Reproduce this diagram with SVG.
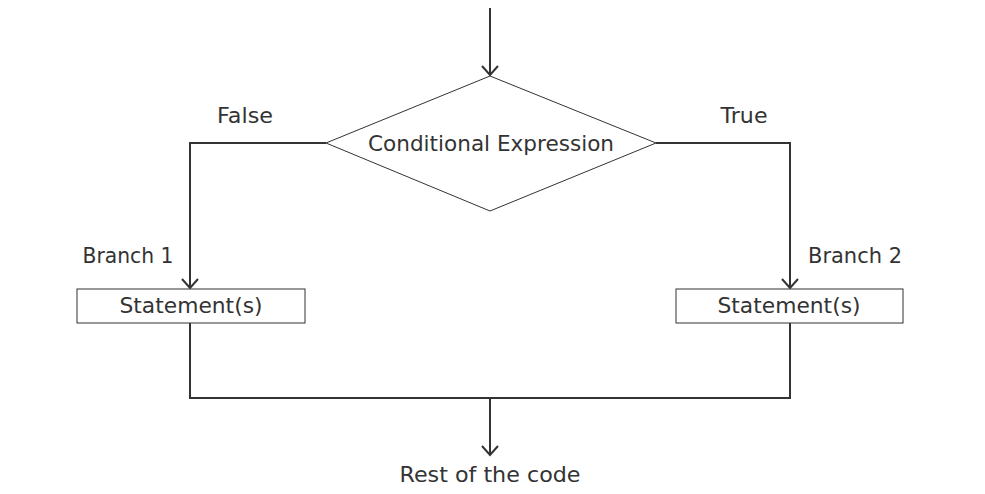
<svg xmlns="http://www.w3.org/2000/svg" width="985" height="494" viewBox="0 0 985 494">
<style>
.t{font-family:"DejaVu Sans","Liberation Sans",sans-serif;font-size:21px;fill:#333;text-anchor:middle}
.c{fill:none;stroke:#333;stroke-width:2}
.s{fill:#fff;stroke:#333;stroke-width:1}
</style>
<defs>
<marker id="a" markerWidth="20" markerHeight="20" refX="10" refY="10" orient="auto" markerUnits="userSpaceOnUse">
<polyline points="1,2 10,10 1,18" fill="none" stroke="#333" stroke-width="2"/>
</marker>
</defs>
<g id="connectors">
<line class="c" x1="490" y1="8" x2="490" y2="75" marker-end="url(#a)"/>
<polyline class="c" points="326,143 190,143 190,288" marker-end="url(#a)"/>
<polyline class="c" points="656,143 790,143 790,288" marker-end="url(#a)"/>
<polyline class="c" points="190,323 190,398 790,398 790,323"/>
<line class="c" x1="490" y1="398" x2="490" y2="455" marker-end="url(#a)"/>
</g>
<g id="decision">
<polygon class="s" points="490,76 656,143 490,211 326,143"/>
<text class="t" x="491" y="151" textLength="246" lengthAdjust="spacingAndGlyphs">Conditional Expression</text>
</g>
<g id="label-false"><text class="t" x="245" y="123" textLength="56" lengthAdjust="spacingAndGlyphs">False</text></g>
<g id="label-true"><text class="t" x="744" y="123" textLength="47" lengthAdjust="spacingAndGlyphs">True</text></g>
<g id="label-branch1"><text class="t" x="128" y="263" textLength="91" lengthAdjust="spacingAndGlyphs">Branch 1</text></g>
<g id="label-branch2"><text class="t" x="855" y="263" textLength="94" lengthAdjust="spacingAndGlyphs">Branch 2</text></g>
<g id="stmt1">
<rect class="s" x="77" y="289" width="228" height="34"/>
<text class="t" x="191" y="313" textLength="143" lengthAdjust="spacingAndGlyphs">Statement(s)</text>
</g>
<g id="stmt2">
<rect class="s" x="676" y="289" width="227" height="34"/>
<text class="t" x="789" y="313" textLength="143" lengthAdjust="spacingAndGlyphs">Statement(s)</text>
</g>
<g id="rest"><text class="t" x="490" y="482" textLength="181" lengthAdjust="spacingAndGlyphs">Rest of the code</text></g>
</svg>
